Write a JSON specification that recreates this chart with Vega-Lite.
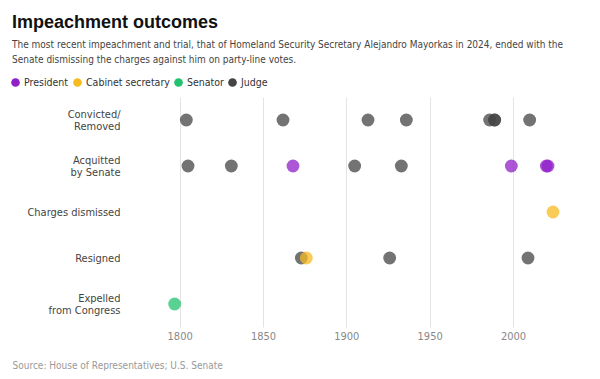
{
  "$schema": "https://vega.github.io/schema/vega-lite/v6.json",
  "width": 400,
  "height": 230,
  "autosize": {"type": "none"},
  "padding": {"left": 163, "top": 97, "right": 37, "bottom": 52},
  "background": "white",
  "title": {
    "text": "Impeachment outcomes",
    "subtitle": [
      "The most recent impeachment and trial, that of Homeland Security Secretary Alejandro Mayorkas in 2024, ended with the",
      "Senate dismissing the charges against him on party-line votes."
    ],
    "anchor": "start",
    "frame": "group",
    "dx": -151,
    "font": "Liberation Sans",
    "fontSize": 18,
    "fontWeight": "bold",
    "color": "#111111",
    "subtitleFont": "DejaVu Sans Condensed",
    "subtitleFontSize": 10,
    "subtitleColor": "#444444",
    "subtitlePadding": 8,
    "subtitleLineHeight": 15,
    "offset": 12
  },
  "data": {
    "values": [
      {"name": "John Pickering", "year": 1804, "outcome": "Convicted/|Removed", "role": "Judge"},
      {"name": "West Humphreys", "year": 1862, "outcome": "Convicted/|Removed", "role": "Judge"},
      {"name": "Robert Archbald", "year": 1913, "outcome": "Convicted/|Removed", "role": "Judge"},
      {"name": "Halsted Ritter", "year": 1936, "outcome": "Convicted/|Removed", "role": "Judge"},
      {"name": "Harry Claiborne", "year": 1986, "outcome": "Convicted/|Removed", "role": "Judge"},
      {"name": "Alcee Hastings", "year": 1989, "outcome": "Convicted/|Removed", "role": "Judge"},
      {"name": "Walter Nixon", "year": 1989, "outcome": "Convicted/|Removed", "role": "Judge"},
      {"name": "Thomas Porteous", "year": 2010, "outcome": "Convicted/|Removed", "role": "Judge"},
      {"name": "Samuel Chase", "year": 1805, "outcome": "Acquitted|by Senate", "role": "Judge"},
      {"name": "James Peck", "year": 1831, "outcome": "Acquitted|by Senate", "role": "Judge"},
      {"name": "Andrew Johnson", "year": 1868, "outcome": "Acquitted|by Senate", "role": "President"},
      {"name": "Charles Swayne", "year": 1905, "outcome": "Acquitted|by Senate", "role": "Judge"},
      {"name": "Harold Louderback", "year": 1933, "outcome": "Acquitted|by Senate", "role": "Judge"},
      {"name": "Bill Clinton", "year": 1999, "outcome": "Acquitted|by Senate", "role": "President"},
      {"name": "Donald Trump", "year": 2020, "outcome": "Acquitted|by Senate", "role": "President"},
      {"name": "Donald Trump", "year": 2021, "outcome": "Acquitted|by Senate", "role": "President"},
      {"name": "Alejandro Mayorkas", "year": 2024, "outcome": "Charges dismissed", "role": "Cabinet secretary"},
      {"name": "Mark Delahay", "year": 1873, "outcome": "Resigned", "role": "Judge"},
      {"name": "William Belknap", "year": 1876, "outcome": "Resigned", "role": "Cabinet secretary"},
      {"name": "George English", "year": 1926, "outcome": "Resigned", "role": "Judge"},
      {"name": "Samuel Kent", "year": 2009, "outcome": "Resigned", "role": "Judge"},
      {"name": "William Blount", "year": 1797, "outcome": "Expelled|from Congress", "role": "Senator"}
    ]
  },
  "mark": {"type": "circle", "opacity": 0.75, "size": 165},
  "encoding": {
    "x": {
      "field": "year",
      "type": "quantitative",
      "scale": {"domain": [1790, 2030], "nice": false, "zero": false},
      "axis": {
        "values": [1800, 1850, 1900, 1950, 2000],
        "format": "d",
        "domain": false,
        "ticks": false,
        "grid": true,
        "gridColor": "#e3e3e3",
        "labelColor": "#888888",
        "labelFontSize": 11,
        "labelPadding": 3,
        "title": "Source: House of Representatives; U.S. Senate",
        "titleAnchor": "start",
        "titleAlign": "left",
        "titleBaseline": "alphabetic",
        "titleX": -151,
        "titleY": 41,
        "titleFontSize": 10,
        "titleColor": "#999999",
        "titleFontWeight": "normal"
      }
    },
    "y": {
      "field": "outcome",
      "type": "nominal",
      "sort": ["Convicted/|Removed", "Acquitted|by Senate", "Charges dismissed", "Resigned", "Expelled|from Congress"],
      "scale": {"type": "point", "padding": 0.5},
      "axis": {
        "title": null,
        "labelExpr": "split(datum.label, '|')",
        "domain": false,
        "ticks": false,
        "grid": false,
        "labelPadding": 43,
        "labelFontSize": 11,
        "labelColor": "#444444",
        "labelLineHeight": 12,
        "labelOffset": {
          "condition": {"test": "indexof(datum.value, '|') >= 0", "value": -6},
          "value": 0
        }
      }
    },
    "color": {
      "field": "role",
      "type": "nominal",
      "scale": {
        "domain": ["President", "Cabinet secretary", "Senator", "Judge"],
        "range": ["#9020c8", "#f7bb22", "#22c16e", "#444444"]
      },
      "legend": {
        "orient": "none",
        "legendX": -153,
        "legendY": -20,
        "direction": "horizontal",
        "title": null,
        "symbolType": "circle",
        "symbolSize": 75,
        "symbolOpacity": 1,
        "labelFontSize": 10.5,
        "labelColor": "#333333",
        "labelOffset": 3,
        "columnPadding": 3
      }
    }
  },
  "config": {
    "font": "DejaVu Sans Condensed",
    "view": {"stroke": null}
  }
}
